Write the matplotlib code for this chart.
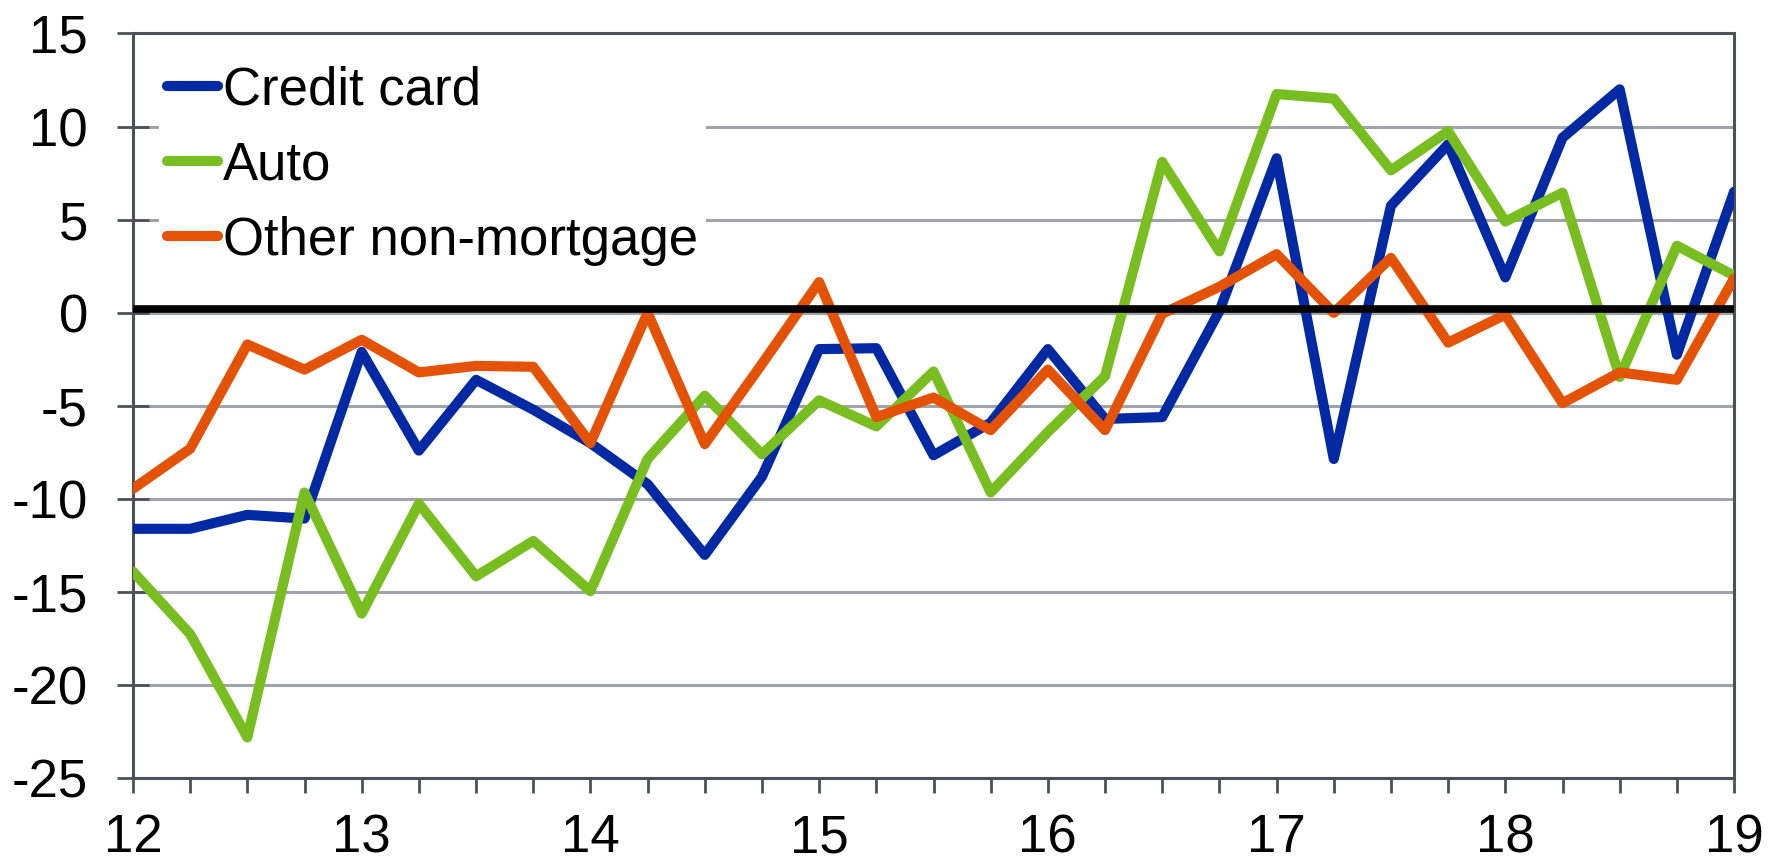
import matplotlib
matplotlib.use('Agg')
import matplotlib.pyplot as plt
import numpy as np

plt.rcParams['font.family'] = ['Liberation Sans', 'DejaVu Sans']
plt.rcParams['axes.unicode_minus'] = False

# quarterly, 2012Q1 .. 2019Q1
quarters = 12 + np.arange(29) / 4.0

credit_card = [-11.6, -11.6, -10.85, -11.05, -2.1, -7.4, -3.6, -5.2, -7.0, -9.2,
               -13.0, -8.8, -1.95, -1.9, -7.65, -5.9, -1.95, -5.7, -5.6, 0.1,
               8.3, -7.85, 5.75, 9.05, 1.9, 9.4, 12.0, -2.25, 6.5]
auto = [-13.9, -17.25, -22.8, -9.65, -16.15, -10.25, -14.15, -12.25, -14.95, -7.85,
        -4.45, -7.6, -4.7, -6.1, -3.15, -9.65, -6.4, -3.4, 8.1, 3.3,
        11.75, 11.5, 7.65, 9.75, 4.9, 6.45, -3.45, 3.6, 2.0]
other = [-9.45, -7.3, -1.7, -3.05, -1.45, -3.2, -2.85, -2.9, -7.0, 0.0,
         -7.05, -2.75, 1.65, -5.6, -4.55, -6.3, -3.05, -6.3, -0.05, 1.4,
         3.15, 0.0, 2.95, -1.6, -0.1, -4.85, -3.2, -3.6, 1.85]

year_ticks = [12, 13, 14, 15, 16, 17, 18, 19]
y_ticks = [-25, -20, -15, -10, -5, 0, 5, 10, 15]

fig = plt.figure(figsize=(17.68, 8.63), dpi=100)
ax = fig.add_axes([0.0752, 0.0981, 0.9056, 0.8631])

ax.plot(quarters, credit_card, color='#0029a3', lw=7.3, solid_joinstyle='round',
        solid_capstyle='round', label='Credit card', zorder=3)
ax.plot(quarters, auto, color='#78be21', lw=7.3, solid_joinstyle='round',
        solid_capstyle='round', label='Auto', zorder=3)
ax.plot(quarters, other, color='#e35205', lw=7.3, solid_joinstyle='round',
        solid_capstyle='round', label='Other non-mortgage', zorder=3)

ax.axhline(0.23, color='black', lw=5.5, zorder=5)

ax.set_xlim(12, 19)
ax.set_ylim(-25, 15)
ax.set_xticks(year_ticks)
ax.set_xticks(quarters, minor=True)
ax.set_yticks(y_ticks)
ax.set_xticklabels([str(t) for t in year_ticks])
ax.set_yticklabels([str(t) for t in y_ticks])

ax.tick_params(axis='x', which='both', direction='out', length=11, width=2,
               color='#4d5054', labelsize=38, pad=14)
ax.tick_params(axis='y', direction='inout', length=23, width=2,
               color='#4d5054', labelsize=38, pad=21)

ax.yaxis.grid(True, color='#a0a3a7', lw=2.2)
ax.set_axisbelow(True)
for s in ax.spines.values():
    s.set_color('#4d5054')
    s.set_linewidth(2.2)

leg = ax.legend(loc='upper left', bbox_to_anchor=(0.0161, 0.968), borderaxespad=0,
                fontsize=38, handlelength=0.97, handletextpad=0.1, labelspacing=0.48,
                borderpad=0.15, frameon=True, fancybox=False, framealpha=1,
                facecolor='white', edgecolor='none')
for line in leg.get_lines():
    line.set_solid_capstyle('round')
leg.set_zorder(4)

fig.savefig('out.png', dpi=100)
